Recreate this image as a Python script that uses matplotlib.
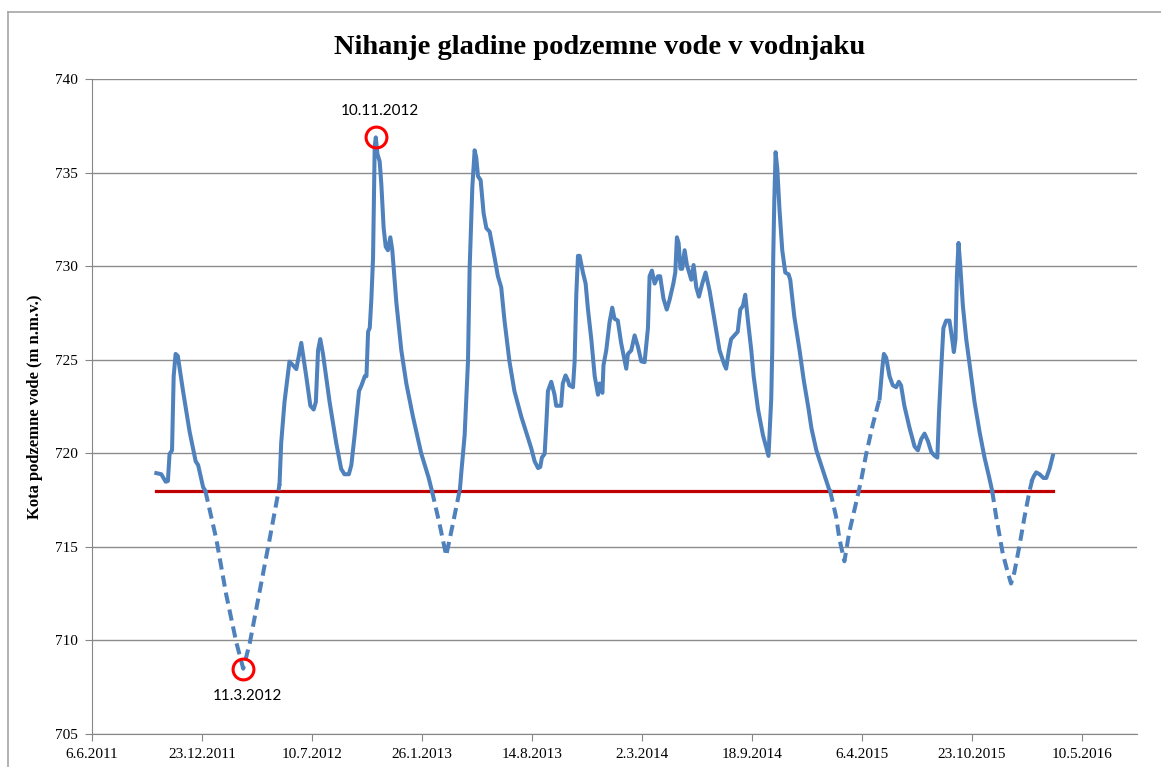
import pandas as pd
import matplotlib.pyplot as plt
from matplotlib.lines import Line2D

# Days after 6.6.2011 and water level (m n.m.v.)
start_date = pd.Timestamp('2011-06-06')
days = [117, 126, 134, 138, 141, 145.5, 148.5, 152, 156, 165.5, 177.5, 188.5, 193, 202, 206,
        226, 244, 262.5, 275, 287, 305, 323, 338,
        341, 344, 350, 359, 365.5, 371.5, 380.5, 389.5, 397, 403, 407, 411, 415, 420, 432, 444,
        453, 459, 467, 471.5, 477.5, 485.5, 490, 496, 499, 502, 505, 508, 511, 514, 516, 519,
        523, 526, 530.3, 534, 538, 542.4, 546, 553.3, 562.4, 571.5, 583.6, 598.8, 612, 618,
        632, 644, 656, 667,
        669, 671.5, 677.5, 683.6, 686.6, 691.5, 695.7, 698.7, 701.8, 706.6, 712, 717, 723, 732,
        738, 744, 750, 759, 768, 780.6, 798.7, 804.8, 811, 815, 818, 823, 826, 829, 835, 841,
        844, 853, 856, 861, 865, 868, 874.5, 877.5, 880.5, 883.6, 886.6, 892.6, 897.5, 901.8,
        907.8, 914, 920, 923, 928, 930, 935, 941, 945.9, 950, 956, 962, 971.4, 974.4, 980.5,
        986.6, 992.6, 998.7, 1004.7, 1010.8, 1013.8, 1018, 1023, 1029, 1033, 1039, 1045, 1050,
        1057, 1060.5, 1063.5, 1066.5, 1070, 1073, 1077.5, 1081.7, 1089.6, 1093.8, 1098.7,
        1103.5, 1109.6, 1115.6, 1123, 1132, 1141, 1150, 1153, 1158, 1162, 1168, 1174, 1178.7,
        1183.5, 1187.7, 1192.6, 1198.7, 1203, 1211, 1220, 1230, 1235, 1236.8, 1238.6, 1240.5,
        1242.9, 1246, 1250, 1255, 1260.5, 1266.5, 1269.6, 1277, 1286.5, 1294, 1303, 1308, 1317,
        1329, 1340, 1342,
        1353, 1359, 1368, 1377, 1389.5, 1398.6, 1407.7, 1419.8, 1432,
        1436.8, 1439.8, 1444, 1450, 1456, 1462, 1467, 1471, 1477, 1486.5, 1495.6, 1501.6,
        1507.7, 1513.7, 1519.8, 1526, 1532, 1537, 1540, 1544, 1548, 1553, 1559, 1564, 1567,
        1570, 1572.5, 1575.5, 1578.6, 1583.4, 1589.5, 1596.7, 1604.6, 1613.7, 1622.8, 1630.7,
        1636.7,
        1644, 1656, 1665, 1671, 1677, 1686, 1695.5, 1704.6, 1709.5,
        1712.5, 1716.7, 1722.8, 1730, 1735, 1741, 1747]
levels = [718.94, 718.88, 718.48, 718.52, 719.96, 720.16, 724.12, 725.31, 725.2, 723.33, 721.15,
          719.57, 719.37, 718.19, 718.0,
          715.42, 712.45, 709.88, 708.49, 709.88, 712.65, 715.42, 717.79,
          718.38, 720.56, 722.74, 724.9, 724.7, 724.5, 725.9, 724.12, 722.54, 722.34, 722.74,
          725.5, 726.1, 725.3, 722.74, 720.56, 719.17, 718.88, 718.88, 719.37, 720.96, 723.33,
          723.63, 724.12, 724.12, 726.5, 726.7, 728.27, 730.45, 736.39, 736.88, 735.99,
          735.6, 734.41, 732.03, 731.04, 730.85, 731.54, 730.85, 728.08, 725.5, 723.73, 721.95,
          719.97, 718.7, 718.0,
          716.21, 714.53, 716.21, 717.79,
          718.1, 718.98, 720.96, 724.9, 729.86, 734.21, 736.19, 735.79, 734.8, 734.6, 732.83,
          732.03, 731.84, 730.45, 729.46, 728.87, 727.09, 724.91, 723.33, 721.95, 720.26,
          719.57, 719.21, 719.27, 719.77, 719.97, 721.55, 723.33, 723.82, 723.13, 722.54,
          722.54, 723.73, 724.16, 723.92, 723.63, 723.53, 724.91, 728.47, 730.55, 730.55,
          729.66, 729.07, 727.68, 726.1, 724.12, 723.13, 723.73, 723.23, 724.71, 725.5, 727.0,
          727.78, 727.19, 727.09, 725.9, 724.52, 725.31, 725.5, 726.3, 725.7, 724.91, 724.87,
          726.69, 729.46, 729.76, 729.07, 729.46, 729.46, 728.27, 727.68, 728.18, 729.07,
          729.66, 731.54, 731.24, 729.86, 729.86, 730.85, 730.06, 729.27, 730.06, 728.87,
          728.37, 729.07, 729.66, 728.67, 727.09, 725.5, 724.71, 724.52, 725.5, 726.1, 726.3,
          726.49, 727.68, 727.88, 728.47, 727.09, 725.5, 724.12, 722.34, 720.96, 719.86,
          722.93, 725.5, 730.45, 733.42, 736.09, 735.2, 733.02, 730.85, 729.66, 729.56, 729.26,
          727.29, 725.5, 723.92, 722.34, 721.35, 720.16, 719.08, 718.09, 718.0,
          716.6, 715.42, 714.23, 715.81, 717.39, 718.58, 719.97, 721.55, 722.93,
          724.52, 725.31, 725.11, 724.12, 723.63, 723.53, 723.82, 723.63, 722.54, 721.35,
          720.36, 720.16, 720.76, 721.05, 720.66, 720.07, 719.87, 719.77, 722.14, 724.52,
          726.69, 727.09, 727.09, 726.1, 725.41, 726.1, 729.46, 731.24, 730.06, 727.88, 726.1,
          724.52, 722.74, 721.15, 719.77, 718.78, 717.99,
          716.6, 714.63, 713.64, 713.04, 713.64, 715.02, 716.6, 717.99, 718.58,
          718.78, 718.98, 718.88, 718.68, 718.68, 719.17, 719.87]

# periods without measurements (estimated, dashed)
gaps = [(206, 341), (618, 669), (1342, 1432), (1636.7, 1709.5)]
limit_level = 718
tick_days = [0, 200, 400, 600, 800, 1000, 1200, 1400, 1600, 1800]

df = pd.DataFrame({'day': days, 'level': levels})
df['date'] = start_date + pd.to_timedelta(df['day'], unit='D')
inside = pd.Series(False, index=df.index)
on_edge = pd.Series(False, index=df.index)
for g0, g1 in gaps:
    inside |= (df['day'] > g0) & (df['day'] < g1)
    on_edge |= (df['day'] >= g0) & (df['day'] <= g1)
solid = df['level'].where(~inside)
dashed = df['level'].where(on_edge)

blue = '#4F81BD'
fig = plt.figure(figsize=(11.61, 7.67), dpi=100)
ax = fig.add_axes([92 / 1161, 33 / 767, 1045 / 1161, 655 / 767])

# chart border (top and left visible)
fig.add_artist(Line2D([8 / 1161, 8 / 1161], [0, 1 - 12 / 767], transform=fig.transFigure, color='#a6a6a6', lw=1.2))
fig.add_artist(Line2D([8 / 1161, 1], [1 - 12 / 767, 1 - 12 / 767], transform=fig.transFigure, color='#a6a6a6', lw=1.2))

ax.plot(df['date'], solid, color=blue, lw=2.9, solid_joinstyle='round', zorder=3)
ax.plot(df['date'], dashed, color=blue, lw=2.9, dashes=(2.8, 1.5), zorder=3)
ax.plot([df['date'].iloc[0], df['date'].iloc[-1]], [limit_level, limit_level], color='#C00000', lw=2.3, zorder=2)

# highlight extremes
imax = df['level'].idxmax()
imin = df['level'].idxmin()
for i, lab, dy in [(imax, '10.11.2012', 19), (imin, '11.3.2012', -20)]:
    ax.plot(df['date'][i], df['level'][i], marker='o', ms=15, mfc='none', mec='red', mew=2.2, zorder=4)
    ax.annotate(lab, (df['date'][i], df['level'][i]), xytext=(3, dy), textcoords='offset points',
                ha='center', va='center', fontsize=11, family='Lato')

ax.set_xlim(start_date, start_date + pd.Timedelta(days=1900))
ax.set_ylim(705, 740)
ticks = [start_date + pd.Timedelta(days=d) for d in tick_days]
ax.set_xticks(ticks)
ax.set_xticklabels([f'{t.day}.{t.month}.{t.year}' for t in ticks], family='Liberation Serif', fontsize=11)
ax.set_yticks(range(705, 741, 5))
ax.set_yticklabels([str(v) for v in range(705, 741, 5)], family='Liberation Serif', fontsize=11)
ax.tick_params(length=5, color='#868686', pad=5)
ax.grid(axis='y', color='#8c8c8c', lw=1)
ax.set_axisbelow(True)
for s in ['top', 'right']:
    ax.spines[s].set_visible(False)
for s in ['left', 'bottom']:
    ax.spines[s].set_color('#868686')

ax.set_ylabel('Kota podzemne vode (m n.m.v.)', family='Liberation Serif', fontweight='bold', fontsize=12, labelpad=9)
fig.text(600 / 1161, 1 - 47 / 767, 'Nihanje gladine podzemne vode v vodnjaku', ha='center', va='center',
         family='Liberation Serif', fontweight='bold', fontsize=20.5)

fig.savefig('out.png', dpi=100)
